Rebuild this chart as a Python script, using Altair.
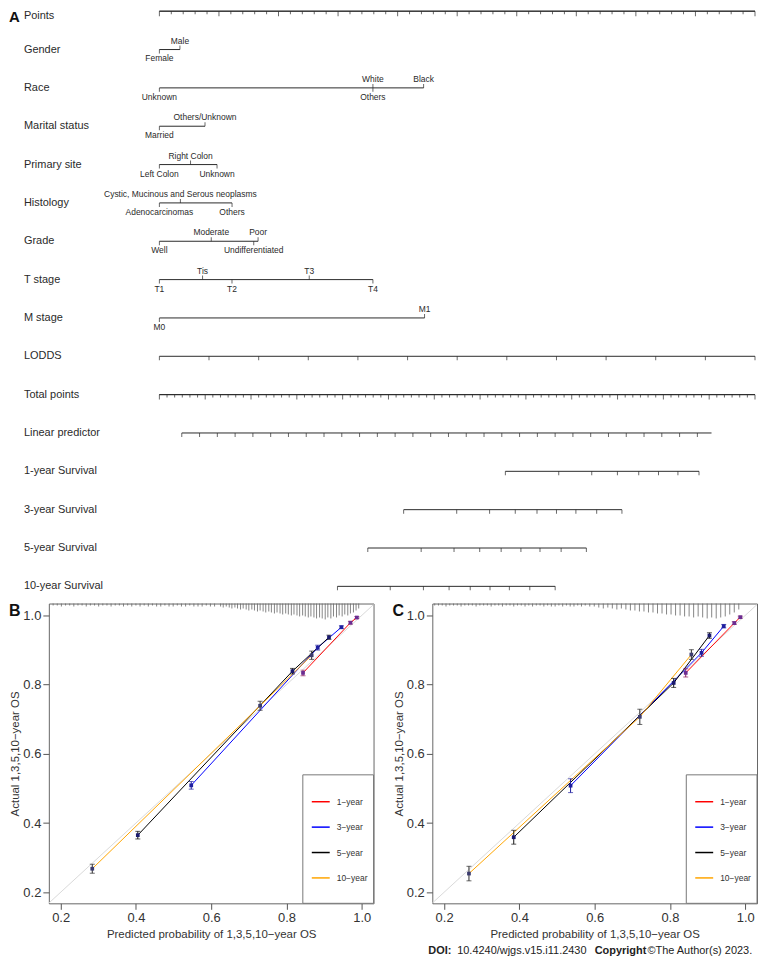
import altair as alt
import pandas as pd

FONT = "Liberation Sans"
INK = "#2a2a2a"

# ======================= Panel A : nomogram =======================
row_names = ["Points", "Gender", "Race", "Marital status", "Primary site", "Histology",
             "Grade", "T stage", "M stage", "LODDS", "Total points", "Linear predictor",
             "1-year Survival", "3-year Survival", "5-year Survival", "10-year Survival"]

gender_labels = ["Female", "Male"]
gender_points = [0.0, 3.45]
gender_sides = ["below", "above"]

race_labels = ["Unknown", "White", "Others", "Black"]
race_points = [0.0, 35.85, 35.85, 44.36]
race_sides = ["below", "above", "below", "above"]

marital_labels = ["Married", "Others/Unknown"]
marital_points = [0.0, 7.66]
marital_sides = ["below", "above"]

site_labels = ["Left Colon", "Right Colon", "Unknown"]
site_points = [0.0, 5.23, 9.68]
site_sides = ["below", "above", "below"]

hist_labels = ["Adenocarcinomas", "Cystic, Mucinous and Serous neoplasms", "Others"]
hist_points = [0.0, 3.53, 12.2]
hist_sides = ["below", "above", "below"]

grade_labels = ["Well", "Moderate", "Undifferentiated", "Poor"]
grade_points = [0.0, 8.71, 15.84, 16.57]
grade_sides = ["below", "above", "below", "above"]

t_labels = ["T1", "Tis", "T2", "T3", "T4"]
t_points = [0.0, 7.25, 12.19, 25.16, 35.85]
t_sides = ["below", "above", "below", "above", "below"]

m_labels = ["M0", "M1"]
m_points = [0.0, 44.52]
m_sides = ["below", "above"]

points_major = [0, 10, 20, 30, 40, 50, 60, 70, 80, 90, 100]
points_minor = [v for v in range(0, 101, 2) if v % 10]
lodds_ticks = [0, 8.33, 16.67, 25, 33.33, 41.67, 50, 58.33, 66.67, 75, 83.33, 91.67, 100]
total_major = [i * 100 / 13 for i in range(14)]
total_minor = [i * 100 / 78 for i in range(79) if i % 6]
lp_start, lp_end, lp_step, lp_count = 3.76, 92.7, 2.985, 30
lp_ticks = [lp_start + lp_step * i for i in range(lp_count)]
surv1_ticks = [58.09, 67.05, 72.59, 76.90, 80.48, 83.80, 87.06, 90.60]
surv3_ticks = [41.01, 49.92, 55.44, 59.75, 63.40, 66.67, 69.93, 73.42, 77.66]
surv5_ticks = [34.99, 43.95, 49.47, 53.78, 57.38, 60.70, 63.90, 67.45, 71.69]
surv10_ticks = [29.90, 38.76, 44.33, 48.64, 52.19, 55.51, 58.76, 62.19, 66.45]

cat_rows = [
    ("Gender", gender_labels, gender_points, gender_sides),
    ("Race", race_labels, race_points, race_sides),
    ("Marital status", marital_labels, marital_points, marital_sides),
    ("Primary site", site_labels, site_points, site_sides),
    ("Histology", hist_labels, hist_points, hist_sides),
    ("Grade", grade_labels, grade_points, grade_sides),
    ("T stage", t_labels, t_points, t_sides),
    ("M stage", m_labels, m_points, m_sides),
]

line_rows, tick_rows, lab_rows = [], [], []
for name, labs, pts, sides in cat_rows:
    r = row_names.index(name)
    line_rows.append({"row": r, "x0": min(pts), "x1": max(pts)})
    for l, p, s in zip(labs, pts, sides):
        tick_rows.append({"row": r, "x": p, "kind": "up" if s == "above" else "down"})
        lab_rows.append({"row": r, "x": p, "label": l, "side": s})


def add_axis(name, start, end, ticks, kind):
    r = row_names.index(name)
    line_rows.append({"row": r, "x0": start, "x1": end})
    for t in ticks:
        tick_rows.append({"row": r, "x": t, "kind": kind})


add_axis("Points", 0, 100, points_major, "major")
add_axis("Points", 0, 100, points_minor, "minor")
add_axis("LODDS", 0, 100, lodds_ticks, "mid")
add_axis("Total points", 0, 100, total_major, "major")
add_axis("Total points", 0, 100, total_minor, "minor")
add_axis("Linear predictor", lp_start, lp_end, lp_ticks, "mid")
add_axis("1-year Survival", surv1_ticks[0], surv1_ticks[-1], surv1_ticks, "mid")
add_axis("3-year Survival", surv3_ticks[0], surv3_ticks[-1], surv3_ticks, "mid")
add_axis("5-year Survival", surv5_ticks[0], surv5_ticks[-1], surv5_ticks, "mid")
add_axis("10-year Survival", surv10_ticks[0], surv10_ticks[-1], surv10_ticks, "mid")

lines_df = pd.DataFrame(line_rows)
ticks_df = pd.DataFrame(tick_rows)
labs_df = pd.DataFrame(lab_rows)
rows_df = pd.DataFrame({"row": list(range(len(row_names))), "name": row_names})

NOMO_W, NOMO_H = 710, 588
xs_n = alt.Scale(domain=[-18.56, 100.17], nice=False, zero=False, padding=0)
ys_n = alt.Scale(domain=[-0.034, 15.24], reverse=True, nice=False, zero=False, padding=0)
NX = lambda f: alt.X(f, type="quantitative", scale=xs_n, axis=None)
NY = lambda f: alt.Y(f, type="quantitative", scale=ys_n, axis=None)

nomo_layers = [
    alt.Chart(lines_df).mark_rule(color=INK, strokeWidth=1).encode(
        x=NX("x0"), x2="x1:Q", y=NY("row"))
]
for kind, size, off in [("major", 5, 2.5), ("minor", 3, 1.5), ("mid", 4, 2),
                        ("up", 4, -2), ("down", 4, 2)]:
    nomo_layers.append(
        alt.Chart(ticks_df).transform_filter(alt.datum.kind == kind)
        .mark_tick(orient="vertical", size=size, thickness=1, yOffset=off, color=INK)
        .encode(x=NX("x"), y=NY("row"))
    )
nomo_layers.append(
    alt.Chart(labs_df).transform_filter(alt.datum.side == "above")
    .mark_text(baseline="bottom", dy=-4, fontSize=8.5, font=FONT, color=INK)
    .encode(x=NX("x"), y=NY("row"), text="label:N")
)
nomo_layers.append(
    alt.Chart(labs_df).transform_filter(alt.datum.side == "below")
    .mark_text(baseline="top", dy=5, fontSize=8.5, font=FONT, color=INK)
    .encode(x=NX("x"), y=NY("row"), text="label:N")
)
nomo_layers.append(
    alt.Chart(rows_df).transform_filter(alt.datum.row > 0)
    .mark_text(align="left", baseline="middle", fontSize=11, font=FONT, color=INK)
    .encode(x=alt.value(-25), y=NY("row"), text="name:N")
)
# the first row label sits flush with the top edge of the panel
nomo_layers.append(
    alt.Chart(rows_df).transform_filter(alt.datum.row == 0)
    .mark_text(align="left", baseline="top", fontSize=11, font=FONT, color=INK)
    .encode(x=alt.value(-25), y=alt.value(0), text="name:N")
)
nomo_layers.append(
    alt.Chart(pd.DataFrame({"t": ["A"]})).mark_text(
        align="left", baseline="top", fontSize=15, fontWeight="bold",
        font=FONT, color="#111")
    .encode(x=alt.value(-40), y=alt.value(0), text="t:N")
)
nomogram = alt.layer(*nomo_layers).properties(
    width=NOMO_W, height=NOMO_H, view=alt.ViewBackground(strokeOpacity=0))

# ======================= Panels B & C : calibration =======================
series_names = ["1-year", "3-year", "5-year", "10-year"]
line_colors = ["#FF0000", "#0000FF", "#000000", "#FFA500"]
err_colors = ["#8B1C62", "#1E1E9E", "#111111", "#2a2a2a"]
marker_colors = ["#6B2C91", "#1F1FA0", "#1A1A6E", "#3C3C6E"]

# Panel B
b_pred = [[0.844, 0.970, 0.987], [0.547, 0.883, 0.946],
          [0.405, 0.816, 0.913], [0.284, 0.730, 0.867]]
b_obs = [[0.834, 0.979, 0.994], [0.509, 0.907, 0.966],
         [0.365, 0.839, 0.937], [0.268, 0.739, 0.885]]
b_err = [[0.008, 0.004, 0.003], [0.011, 0.007, 0.004],
         [0.011, 0.008, 0.006], [0.013, 0.013, 0.012]]
b_spike_p = [0.180, 0.191, 0.202, 0.213, 0.224, 0.235, 0.246, 0.257, 0.268, 0.279,
             0.290, 0.301, 0.312, 0.323, 0.334, 0.345, 0.356, 0.367, 0.378, 0.389,
             0.400, 0.411, 0.422, 0.433, 0.444, 0.455, 0.466, 0.477, 0.488, 0.499,
             0.510, 0.521, 0.532, 0.543, 0.554, 0.565, 0.576, 0.587, 0.598, 0.609,
             0.625, 0.632, 0.640, 0.648, 0.655, 0.663, 0.670, 0.678, 0.685, 0.693,
             0.700, 0.708, 0.715, 0.723, 0.730, 0.738, 0.745, 0.753, 0.760, 0.768,
             0.775, 0.783, 0.790, 0.798, 0.805, 0.813, 0.820, 0.828, 0.835, 0.843,
             0.850, 0.858, 0.865, 0.873, 0.880, 0.888, 0.895, 0.903, 0.910, 0.918,
             0.925, 0.933, 0.940, 0.948, 0.955, 0.963, 0.970, 0.978, 0.985, 0.992]
b_spike_n = [2, 2, 3, 2, 2, 3, 2, 2, 3, 2,
             2, 3, 2, 2, 3, 2, 2, 3, 2, 3,
             2, 3, 2, 3, 2, 3, 3, 2, 3, 3,
             2, 3, 3, 2, 3, 3, 3, 2, 3, 3,
             3, 4, 3, 4, 5, 4, 5, 6, 5, 6,
             7, 6, 7, 8, 7, 8, 9, 8, 9, 10,
             9, 10, 11, 10, 11, 12, 11, 12, 13, 12,
             13, 14, 13, 14, 15, 14, 15, 16, 14, 15,
             13, 14, 12, 13, 11, 12, 10, 9, 7, 5]

# Panel C
c_pred = [[0.842, 0.971, 0.987], [0.536, 0.884, 0.943],
          [0.385, 0.810, 0.905], [0.266, 0.720, 0.857]]
c_obs = [[0.834, 0.978, 0.995], [0.508, 0.892, 0.969],
         [0.359, 0.805, 0.942], [0.254, 0.707, 0.887]]
c_err = [[0.012, 0.004, 0.003], [0.020, 0.010, 0.005],
         [0.020, 0.013, 0.008], [0.021, 0.022, 0.014]]
c_spike_p = [0.175, 0.185, 0.195, 0.205, 0.215, 0.225, 0.235, 0.245, 0.255, 0.265,
             0.275, 0.285, 0.295, 0.305, 0.315, 0.325, 0.335, 0.345, 0.355, 0.365,
             0.375, 0.385, 0.395, 0.405, 0.415, 0.425, 0.435, 0.445, 0.455, 0.465,
             0.475, 0.485, 0.495, 0.505, 0.515, 0.525, 0.535, 0.545, 0.555, 0.565,
             0.575, 0.587, 0.599, 0.611, 0.623, 0.635, 0.647, 0.659, 0.671, 0.683,
             0.695, 0.707, 0.719, 0.731, 0.743, 0.755, 0.767, 0.779, 0.791, 0.803,
             0.815, 0.827, 0.839, 0.851, 0.863, 0.875, 0.887, 0.899, 0.911, 0.923,
             0.935, 0.947, 0.959, 0.971, 0.983]
c_spike_n = [2, 2, 2, 3, 2, 2, 2, 3, 2, 2,
             2, 3, 2, 2, 2, 3, 2, 2, 3, 2,
             2, 3, 2, 2, 3, 2, 3, 2, 2, 3,
             2, 3, 3, 2, 3, 2, 3, 3, 2, 3,
             2, 3, 3, 4, 5, 4, 5, 6, 5, 6,
             7, 7, 8, 8, 9, 9, 10, 10, 11, 11,
             12, 12, 13, 13, 14, 13, 14, 15, 14, 15,
             14, 13, 11, 9, 6]

ideal_p = [0.0, 1.2]

X_DOM = [0.1686, 1.0314]
Y_DOM = [0.168, 1.0345]
W, H = 326, 301
tick_vals = [0.2, 0.4, 0.6, 0.8, 1.0]

xaxis = alt.Axis(values=tick_vals, format=".1f", title="Predicted probability of 1,3,5,10\u2212year OS",
                 tickSize=6, labelPadding=2, titlePadding=4, grid=False, domain=False,
                 labelFontSize=13, titleFontSize=11.5, labelColor="#333", titleColor="#333",
                 tickColor="#555", labelFlush=False, labelOverlap=False,
                 labelFont=FONT, titleFont=FONT, titleFontWeight="normal")
yaxis = alt.Axis(values=tick_vals, format=".1f", title="Actual 1,3,5,10\u2212year OS",
                 tickSize=6, labelPadding=2, titlePadding=2, grid=False, domain=False,
                 labelFontSize=13, titleFontSize=11.5, labelColor="#333", titleColor="#333",
                 tickColor="#555", labelFlush=False, labelOverlap=False,
                 labelFont=FONT, titleFont=FONT, titleFontWeight="normal")
xs = alt.Scale(domain=X_DOM, nice=False, zero=False, padding=0)
ys = alt.Scale(domain=Y_DOM, nice=False, zero=False, padding=0)
CX = lambda f: alt.X(f, type="quantitative", scale=xs, axis=xaxis)
CY = lambda f: alt.Y(f, type="quantitative", scale=ys, axis=yaxis)


def color_enc(rng):
    return alt.Color("series:N", scale=alt.Scale(domain=series_names, range=rng), legend=None)


def cal_panel(pred, obs, err, spike_p, spike_n, letter, footer=False):
    recs = []
    for s, ps, os_, es in zip(series_names, pred, obs, err):
        for p, a, e in zip(ps, os_, es):
            recs.append({"series": s, "p": p, "a": a, "lo": a - e, "hi": a + e})
    df = pd.DataFrame(recs)
    unit_per_px = (Y_DOM[1] - Y_DOM[0]) / H
    spikes = pd.DataFrame({"p": spike_p,
                           "top": [Y_DOM[1]] * len(spike_p),
                           "bot": [Y_DOM[1] - n * unit_per_px for n in spike_n]})
    ideal = pd.DataFrame({"p": ideal_p, "a": ideal_p})

    layers = [
        alt.Chart(spikes).mark_rule(color="#666", strokeWidth=0.8).encode(
            x=CX("p"), y=CY("top"), y2="bot:Q"),
        alt.Chart(ideal).mark_line(color="#d9d9d9", strokeWidth=1, clip=True).encode(
            x=CX("p"), y=CY("a")),
        alt.Chart(df).mark_line(strokeWidth=1).encode(
            x=CX("p"), y=CY("a"), color=color_enc(line_colors), detail="series:N"),
        alt.Chart(df).mark_rule(strokeWidth=1).encode(
            x=CX("p"), y=CY("lo"), y2="hi:Q", color=color_enc(err_colors)),
        alt.Chart(df).transform_fold(["lo", "hi"], as_=["end", "val"])
        .mark_tick(orient="horizontal", size=5, thickness=1).encode(
            x=CX("p"), y=CY("val"), color=color_enc(err_colors)),
        alt.Chart(df).mark_square(size=14, opacity=1).encode(
            x=CX("p"), y=CY("a"), color=color_enc(marker_colors)),
    ]
    one = pd.DataFrame({"t": [""]})
    layers.append(
        alt.Chart(one).mark_rect(fill="white", stroke="#777", strokeWidth=1).encode(
            x=alt.value(W - 71), x2=alt.value(W), y=alt.value(H - 129), y2=alt.value(H)))
    for i, (name, col) in enumerate(zip(series_names, line_colors)):
        yv = H - 102 + 25.5 * i
        layers.append(alt.Chart(one).mark_rule(color=col, strokeWidth=1.5).encode(
            x=alt.value(W - 62), x2=alt.value(W - 44), y=alt.value(yv)))
        layers.append(alt.Chart(pd.DataFrame({"t": [name.replace("-", "\u2212")]}))
                      .mark_text(align="left", baseline="middle", fontSize=8.5,
                                 font=FONT, color="#333")
                      .encode(x=alt.value(W - 37), y=alt.value(yv), text="t:N"))
    layers.append(alt.Chart(pd.DataFrame({"t": [letter]})).mark_text(
        align="left", baseline="top", fontSize=16, fontWeight="bold",
        font=FONT, color="#111").encode(x=alt.value(-40), y=alt.value(0), text="t:N"))
    if footer:
        parts = [("DOI:", "bold", -4), ("10.4240/wjgs.v15.i11.2430", "normal", 25),
                 ("Copyright", "bold", 163), ("\u00a9The Author(s) 2023.", "normal", 216)]
        for txt, wt, xo in parts:
            layers.append(alt.Chart(pd.DataFrame({"t": [txt]})).mark_text(
                align="left", baseline="middle", fontSize=11, fontWeight=wt,
                font=FONT, color="#222").encode(
                x=alt.value(xo), y=alt.value(H + 48), text="t:N"))
    return (alt.layer(*layers)
            .resolve_scale(color="independent")
            .properties(width=W, height=H,
                        view=alt.ViewBackground(stroke="#666", strokeWidth=1, strokeOpacity=1)))


panel_b = cal_panel(b_pred, b_obs, b_err, b_spike_p, b_spike_n, "B")
panel_c = cal_panel(c_pred, c_obs, c_err, c_spike_p, c_spike_n, "C", footer=True)

chart = (alt.vconcat(nomogram, alt.hconcat(panel_b, panel_c, spacing=17), spacing=7)
         .properties(padding=0)
         .configure(font=FONT))

chart.save("out.html", embed_options={"renderer": "svg", "actions": False})
